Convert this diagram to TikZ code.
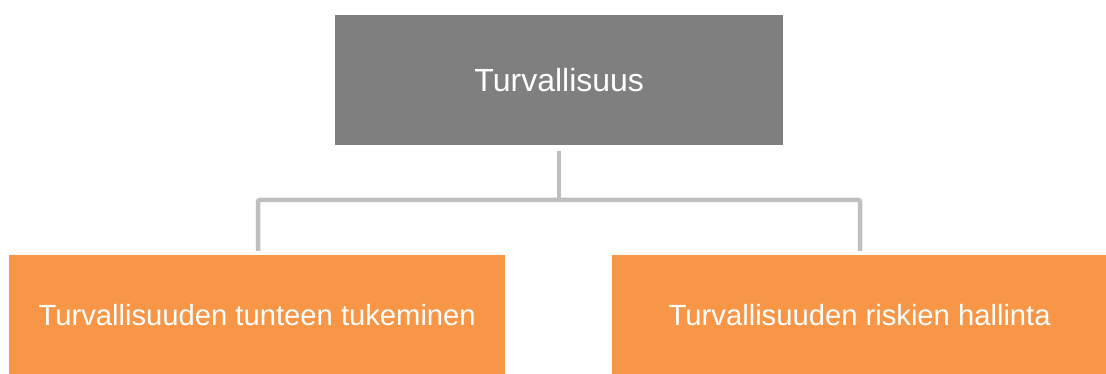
\documentclass[tikz,border=0pt]{standalone}
\usepackage{fontspec}
\setmainfont{Liberation Sans}
\definecolor{boxgray}{HTML}{7F7F7F}
\definecolor{boxorange}{HTML}{F79646}
\definecolor{linegray}{HTML}{BFBFBF}
\begin{document}
\begin{tikzpicture}[x=1pt,y=-1pt,
  box/.style={rectangle, inner sep=0pt, anchor=north west, text=white, align=center},
  conn/.style={draw=linegray, line width=4.5pt, rounded corners=2pt}]
\useasboundingbox[fill=white] (0,0) rectangle (1106,374);
\begin{scope}
\clip (0,0) rectangle (1106,374);
\node[box, fill=boxgray, minimum width=448pt, minimum height=130pt,
  font=\fontsize{32}{38}\selectfont] (top) at (335,15) {Turvallisuus};
\node[box, fill=boxorange, minimum width=496pt, minimum height=120pt,
  font=\fontsize{29.2}{35}\selectfont] (left) at (9,255) {Turvallisuuden tunteen tukeminen};
\node[box, fill=boxorange, minimum width=495pt, minimum height=120pt,
  font=\fontsize{29.2}{35}\selectfont] (right) at (612,255) {Turvallisuuden riskien hallinta};
\end{scope}
\coordinate (j) at (559,200);
\coordinate (lt) at (258,251);
\coordinate (rt) at (860,251);
\draw[conn] ([yshift=-6pt]top.south -| j) -- (j);
\draw[conn] (lt) -- (lt |- j) -- (rt |- j) -- (rt);
\end{tikzpicture}
\end{document}
